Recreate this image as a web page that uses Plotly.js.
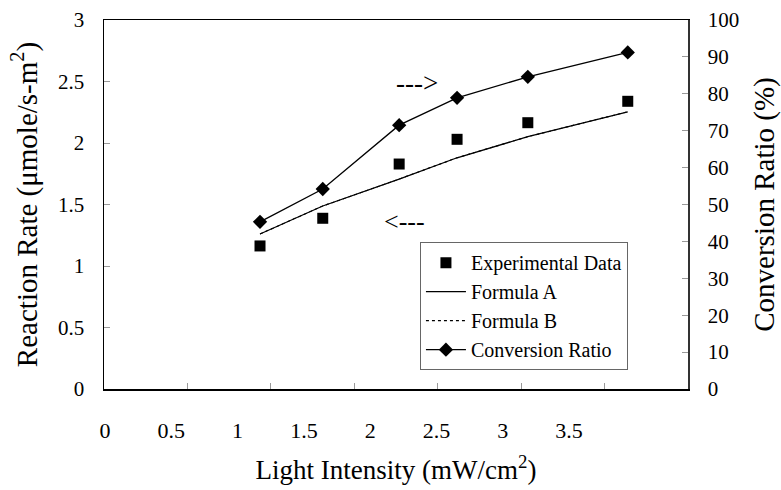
<!DOCTYPE html>
<html>
<head>
<meta charset="utf-8">
<script src="https://cdn.plot.ly/plotly-3.0.1.min.js"></script>
<style>html,body{margin:0;padding:0;background:#fff;}#chart{width:781px;height:490px;}</style>
</head>
<body>
<div id="chart"></div>
<script>
// Light intensity (mW/cm^2)
const intensity = [0.935, 1.311, 1.769, 2.116, 2.540, 3.139];
// Reaction rate (umole/s-m^2)
const experimental = [1.163, 1.388, 1.829, 2.030, 2.165, 2.339];
const formulaA = [1.26, 1.488, 1.707, 1.880, 2.051, 2.254];
const formulaB = [1.26, 1.488, 1.707, 1.880, 2.051, 2.254];
// Conversion ratio (%)
const conversion = [45.3, 54.2, 71.5, 78.9, 84.6, 91.2];
const xTickVals = [0, 0.5, 1, 1.5, 2, 2.5, 3, 3.5];
const xTickText = ['0', '0.5', '1', '1.5', '2', '2.5', '3', '3.5'];
const yTickVals = [0, 0.5, 1, 1.5, 2, 2.5, 3];
const yTickText = ['0', '0.5', '1', '1.5', '2', '2.5', '3'];
const y2TickVals = [0, 10, 20, 30, 40, 50, 60, 70, 80, 90, 100];

const serif = '"Liberation Serif", "Times New Roman", Times, serif';

const traces = [
  {x: intensity, y: experimental, name: 'Experimental Data', type: 'scatter', mode: 'markers',
   marker: {symbol: 'square', size: 11, color: '#000'}, xaxis: 'x', yaxis: 'y'},
  {x: intensity, y: formulaA, name: 'Formula A', type: 'scatter', mode: 'lines',
   line: {color: '#000', width: 1.3}, xaxis: 'x', yaxis: 'y'},
  {x: intensity, y: formulaB, name: 'Formula B', type: 'scatter', mode: 'lines',
   line: {color: '#000', width: 1.1, dash: 'dot'}, xaxis: 'x', yaxis: 'y'},
  {x: intensity, y: conversion, name: 'Conversion Ratio', type: 'scatter', mode: 'lines+markers',
   line: {color: '#000', width: 1.3}, marker: {symbol: 'diamond', size: 11, color: '#000'},
   xaxis: 'x', yaxis: 'y2'},
  // carrier for the tick-label axis (no visible marks)
  {x: xTickVals, y: xTickVals.map(() => null), type: 'scatter', mode: 'markers',
   marker: {opacity: 0}, showlegend: false, hoverinfo: 'skip', xaxis: 'x2', yaxis: 'y'}
];

const layout = {
  width: 781, height: 490,
  margin: {l: 104, r: 93, t: 20, b: 101},
  paper_bgcolor: '#fff', plot_bgcolor: '#fff',
  font: {family: serif, color: '#000', size: 20},
  showlegend: true,
  legend: {x: 0.541, y: 0.398, xanchor: 'left', yanchor: 'top',
    bordercolor: '#666', borderwidth: 1, bgcolor: '#fff',
    font: {family: serif, size: 20, color: '#000'}, tracegroupgap: 0, itemwidth: 40},
  xaxis: {range: [0, 3.5], tickvals: xTickVals, showticklabels: false,
    ticks: 'inside', ticklen: 6, tickcolor: '#999', tickwidth: 1,
    showline: true, linecolor: '#000', linewidth: 1.5, mirror: true,
    showgrid: false, zeroline: false, fixedrange: true},
  xaxis2: {overlaying: 'x', anchor: 'y', side: 'bottom', range: [-0.0075, 4.397],
    tickvals: xTickVals, ticktext: xTickText, ticks: '', showline: false, showgrid: false,
    zeroline: false, ticklabelstandoff: 26, tickfont: {family: serif, size: 22}, fixedrange: true,
    title: {text: 'Light Intensity (mW/cm<sup>2</sup>)', font: {family: serif, size: 27}, standoff: 18}},
  yaxis: {range: [0, 3], tickvals: yTickVals, ticktext: yTickText,
    ticks: 'inside', ticklen: 6, tickcolor: '#999', tickwidth: 1,
    showline: true, linecolor: '#000', linewidth: 1.5,
    showgrid: false, zeroline: false, ticklabelstandoff: 14,
    tickfont: {family: serif, size: 21}, fixedrange: true,
    title: {text: 'Reaction Rate (μmole/s-m<sup>2</sup>)', font: {family: serif, size: 29}, standoff: 12}},
  yaxis2: {range: [0, 100], tickvals: y2TickVals, overlaying: 'y', side: 'right', anchor: 'x',
    ticks: 'inside', ticklen: 6, tickcolor: '#999', tickwidth: 1,
    showline: true, linecolor: '#333', linewidth: 1.5,
    showgrid: false, zeroline: false, ticklabelstandoff: 14,
    tickfont: {family: serif, size: 21}, fixedrange: true,
    title: {text: 'Conversion Ratio (%)', font: {family: serif, size: 29}, standoff: 17}},
  annotations: [
    {x: 1.876, y: 2.488, xref: 'x', yref: 'y', text: '--->', showarrow: false,
     font: {family: serif, size: 27, color: '#000'}},
    {x: 1.799, y: 1.358, xref: 'x', yref: 'y', text: '<---', showarrow: false,
     font: {family: serif, size: 26, color: '#000'}}
  ]
};

Plotly.newPlot('chart', traces, layout, {displayModeBar: false, staticPlot: true});
</script>
</body>
</html>
